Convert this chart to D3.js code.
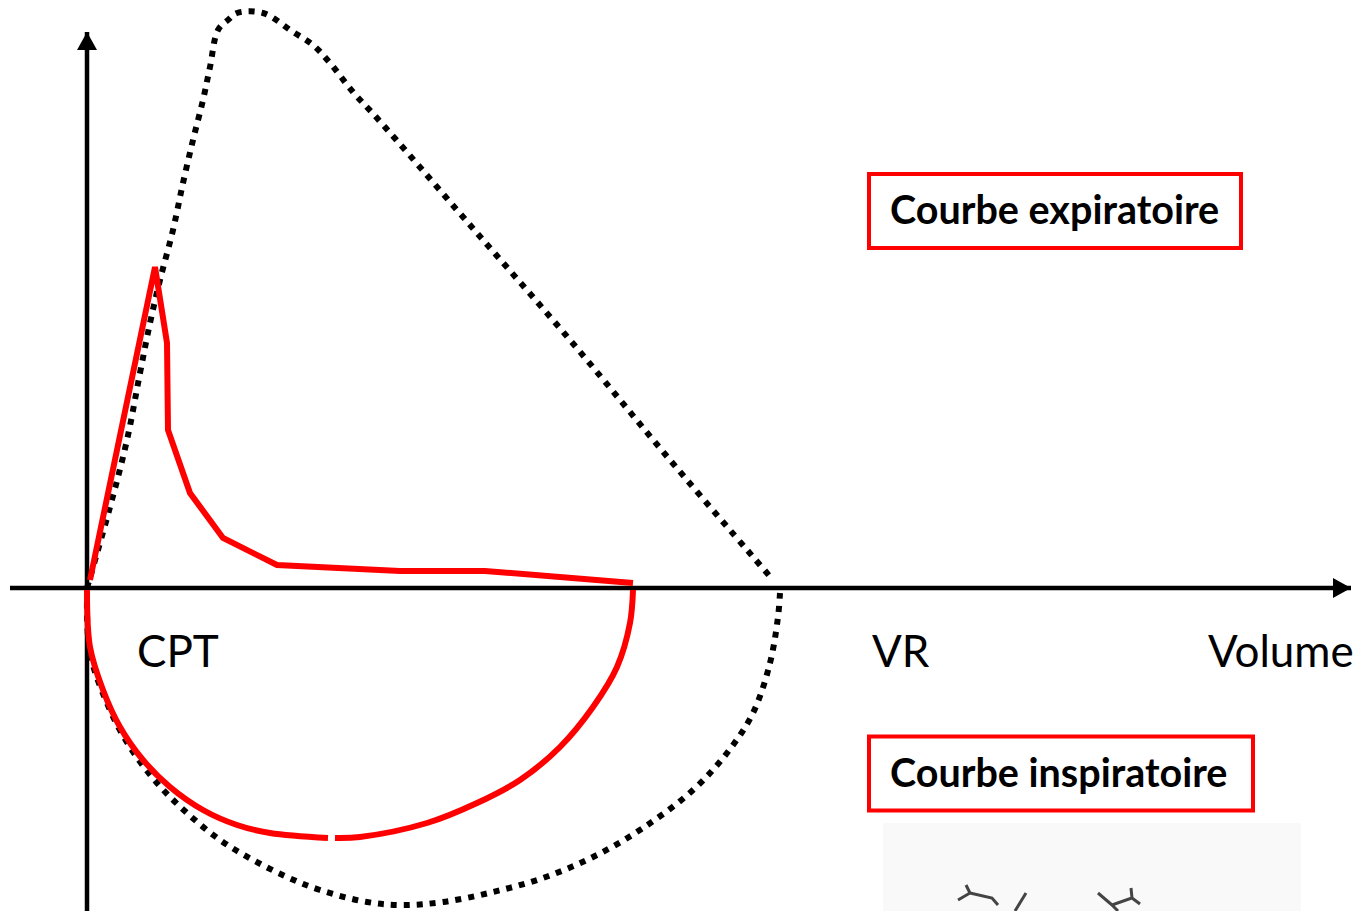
<!DOCTYPE html>
<html>
<head>
<meta charset="utf-8">
<script src="https://cdn.jsdelivr.net/npm/d3@7"></script>
<style>
  html, body { margin: 0; padding: 0; background: #fff; }
  svg { display: block; }
</style>
</head>
<body>
<svg id="chart" width="1362" height="911"></svg>
<script>
// ---- Data (volume, flow) ----
// Red expiratory curve (pathological)
const expVolume = [0.03, 0.68, 0.80, 0.81, 1.03, 1.36, 1.90, 3.13, 3.98, 5.46];
const expFlow   = [0.08, 3.21, 2.45, 1.58, 0.95, 0.50, 0.23, 0.17, 0.17, 0.05];

// Red inspiratory curve, drawn in two pieces (small gap at the bottom)
const inspVolumeA = [0.00, 0.03, 0.16, 0.33, 0.56, 0.83, 1.16, 1.50, 1.83, 2.41];
const inspFlowA   = [-0.02, -0.59, -1.02, -1.39, -1.72, -1.99, -2.22, -2.37, -2.45, -2.50];
const inspVolumeB = [2.48, 2.73, 3.40, 3.90, 4.33, 4.73, 5.06, 5.30, 5.43, 5.46];
const inspFlowB   = [-2.50, -2.49, -2.35, -2.15, -1.92, -1.59, -1.19, -0.79, -0.35, -0.02];

// Dotted reference envelope (normal loop)
const refExpVolume = [0.00, 0.23, 0.40, 0.53, 0.63, 0.73, 0.86, 0.96, 1.06, 1.16, 1.23, 1.31, 1.41, 1.50, 1.76, 2.06, 2.26, 2.43, 2.66, 2.90, 3.83, 4.83, 5.83, 6.86];
const refExpFlow   = [0.00, 0.81, 1.48, 2.15, 2.65, 3.08, 3.58, 4.05, 4.48, 4.88, 5.21, 5.58, 5.68, 5.75, 5.75, 5.56, 5.43, 5.25, 4.96, 4.70, 3.63, 2.48, 1.28, 0.08];
const refInspVolume = [6.93, 6.91, 6.83, 6.66, 6.40, 6.06, 5.56, 5.06, 4.56, 4.06, 3.56, 3.16, 2.80, 2.33, 2.00, 1.66, 1.33, 1.00, 0.70, 0.43, 0.23, 0.03, 0.00];
const refInspFlow   = [-0.05, -0.29, -0.75, -1.25, -1.65, -2.02, -2.40, -2.69, -2.90, -3.04, -3.14, -3.17, -3.14, -3.02, -2.89, -2.72, -2.52, -2.25, -1.95, -1.59, -1.22, -0.65, -0.07];

// Axis extents (data units)
const volumeAxisExtent = [-0.77, 12.68];
const flowAxisExtent   = [-3.23, 5.60];

// Labels
const volumeLabels = [
  { text: "CPT",    v: 0.50 },
  { text: "VR",     v: 7.85 },
  { text: "Volume", v: 11.21 }
];
const legendLabels = ["Courbe expiratoire", "Courbe inspiratoire"];
const legendFlow = [3.77, -1.855];   // vertical center of each box (flow units)

// ---- Scales ----
const x = d3.scaleLinear().domain([0, 7]).range([87, 787]);
const y = d3.scaleLinear().domain([-3, 5.8]).range([888, 8]);

const svg = d3.select("#chart");
const zip = (a, b) => a.map((d, i) => [d, b[i]]);

// faint scanned patch bottom right
svg.append("rect").attr("x", 883).attr("y", 823).attr("width", 418).attr("height", 88)
  .attr("fill", "#f9f9f9");
svg.append("path").attr("d", "M958,900 L970,893 L966,885 M970,893 L992,898 L998,905 M1015,911 L1026,893 M1098,893 L1112,905 L1132,898 L1131,888 M1112,905 L1118,911 M1132,898 L1140,904")
  .attr("fill", "none").attr("stroke", "#444").attr("stroke-width", 3);

// arrow markers
const defs = svg.append("defs");
defs.append("marker").attr("id", "arrow")
  .attr("viewBox", "0 0 18 20").attr("refX", 18).attr("refY", 10)
  .attr("markerWidth", 18).attr("markerHeight", 20)
  .attr("markerUnits", "userSpaceOnUse").attr("orient", "auto")
  .append("path").attr("d", "M0,0 L18,10 L0,20 Z").attr("fill", "#000");

// axes
svg.append("line")
  .attr("x1", x(volumeAxisExtent[0])).attr("x2", x(volumeAxisExtent[1]) - 4)
  .attr("y1", y(0)).attr("y2", y(0))
  .attr("stroke", "#000").attr("stroke-width", 4.5).attr("marker-end", "url(#arrow)");
svg.append("line")
  .attr("x1", x(0)).attr("x2", x(0))
  .attr("y1", y(flowAxisExtent[0])).attr("y2", y(flowAxisExtent[1]) + 4)
  .attr("stroke", "#000").attr("stroke-width", 4.5).attr("marker-end", "url(#arrow)");

// dotted reference loop
const smooth = d3.line().x(d => x(d[0])).y(d => y(d[1])).curve(d3.curveCatmullRom.alpha(0.5));
[zip(refExpVolume, refExpFlow), zip(refInspVolume, refInspFlow)].forEach(pts => {
  svg.append("path").attr("d", smooth(pts))
    .attr("fill", "none").attr("stroke", "#000")
    .attr("stroke-width", 6).attr("stroke-dasharray", "6,7");
});

// red curves
const linear = d3.line().x(d => x(d[0])).y(d => y(d[1]));
svg.append("path").attr("d", linear(zip(expVolume, expFlow)))
  .attr("fill", "none").attr("stroke", "#ff0000").attr("stroke-width", 6)
  .attr("stroke-linejoin", "miter");
[zip(inspVolumeA, inspFlowA), zip(inspVolumeB, inspFlowB)].forEach(pts => {
  svg.append("path").attr("d", smooth(pts))
    .attr("fill", "none").attr("stroke", "#ff0000").attr("stroke-width", 6);
});

// volume labels
svg.selectAll("text.vol").data(volumeLabels).enter().append("text")
  .attr("class", "vol")
  .attr("x", d => x(d.v)).attr("y", y(-0.79))
  .attr("font-family", "Lato, 'Open Sans', sans-serif")
  .attr("font-size", 44)
  .attr("fill", "#000")
  .text(d => d.text);

// legend boxes
const boxW = [372, 384];
legendLabels.forEach((t, i) => {
  const cy = y(legendFlow[i]);
  svg.append("rect").attr("x", 869).attr("y", cy - 37).attr("width", boxW[i]).attr("height", 74)
    .attr("fill", "#fff").attr("stroke", "#ff0000").attr("stroke-width", 4);
  svg.append("text").attr("x", 890).attr("y", cy + 13)
    .attr("font-family", "Lato, 'Open Sans', sans-serif")
    .attr("font-weight", "bold").attr("font-size", 39.5)
    .attr("fill", "#000").text(t);
});
</script>
</body>
</html>
